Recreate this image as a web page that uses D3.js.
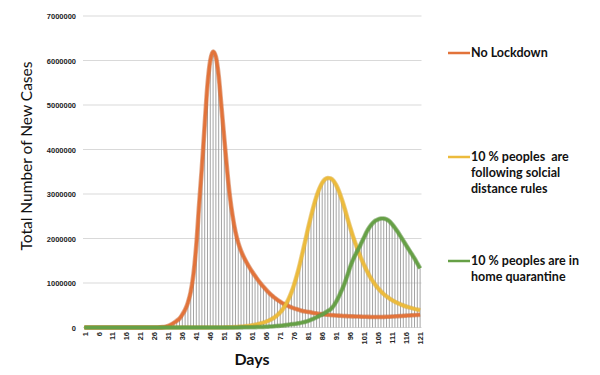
<!DOCTYPE html>
<html>
<head>
<meta charset="utf-8">
<script src="https://cdn.jsdelivr.net/npm/d3@7"></script>
<style>
  body { margin: 0; background: #fff; }
  svg { display: block; font-family: Lato, "Open Sans", sans-serif; }
  .tick text { font-weight: bold; font-size: 7.5px; fill: #222; }
  .legend text { font-weight: bold; font-size: 12.5px; fill: #111; white-space: pre; }
</style>
</head>
<body>
<svg id="chart" width="600" height="375"></svg>
<script>
// day numbers 1..121
var days = [1,2,3,4,5,6,7,8,9,10,11,12,13,14,15,16,17,18,19,20,
  21,22,23,24,25,26,27,28,29,30,31,32,33,34,35,36,37,38,39,40,
  41,42,43,44,45,46,47,48,49,50,51,52,53,54,55,56,57,58,59,60,
  61,62,63,64,65,66,67,68,69,70,71,72,73,74,75,76,77,78,79,80,
  81,82,83,84,85,86,87,88,89,90,91,92,93,94,95,96,97,98,99,100,
  101,102,103,104,105,106,107,108,109,110,111,112,113,114,115,116,117,118,119,120,121];

var dayTicks = [1,6,11,16,21,26,31,36,41,46,51,56,61,66,71,76,81,86,91,96,101,106,111,116,121];
var yTicks = [0,1000000,2000000,3000000,4000000,5000000,6000000,7000000];

var seriesNames = ["No Lockdown", "10 % peoples  are\nfollowing solcial\ndistance rules", "10 % peoples are in\nhome quarantine"];

// No Lockdown
var noLockdown = [0,0,0,0,0,0,0,0,0,0,
  0,0,0,0,0,0,0,0,0,0,
  0,0,0,0,0,0,1000,3000,8000,18000,
  35000,65000,105000,150000,200000,290000,400000,560000,800000,1200000,
  1850000,2750000,3600000,4550000,5450000,6000000,6200000,6080000,5650000,4950000,
  4250000,3550000,2950000,2500000,2150000,1900000,1720000,1580000,1460000,1350000,
  1250000,1160000,1070000,990000,915000,845000,780000,720000,670000,620000,
  580000,540000,510000,480000,450000,430000,410000,390000,370000,360000,
  350000,340000,325000,315000,305000,300000,292000,285000,280000,275000,
  270000,266000,262000,258000,255000,252000,250000,248000,246000,244000,
  242000,240000,238000,237000,236000,236000,237000,238000,240000,243000,
  246000,250000,254000,258000,262000,266000,270000,274000,278000,282000,286000];

// 10 % following social distance rules
var socialDistance = [0,0,0,0,0,0,0,0,0,0,
  0,0,0,0,0,0,0,0,0,0,
  0,0,0,0,0,0,0,0,0,0,
  0,0,0,0,0,0,0,0,0,0,
  0,0,0,0,0,0,0,0,0,0,
  2000,3000,5000,7000,10000,14000,19000,25000,32000,40000,
  50000,62000,76000,92000,110000,132000,158000,190000,230000,280000,
  340000,420000,520000,640000,790000,970000,1180000,1420000,1690000,1960000,
  2240000,2500000,2740000,2950000,3120000,3250000,3330000,3360000,3350000,3300000,
  3200000,3060000,2880000,2680000,2460000,2250000,2050000,1870000,1700000,1540000,
  1400000,1270000,1150000,1050000,960000,880000,810000,750000,700000,655000,
  615000,580000,548000,520000,495000,473000,453000,435000,418000,402000,388000];

// 10 % in home quarantine
var homeQuarantine = [0,0,0,0,0,0,0,0,0,0,
  0,0,0,0,0,0,0,0,0,0,
  0,0,0,0,0,0,0,0,0,0,
  0,0,0,0,0,0,0,0,0,0,
  0,0,0,0,0,0,0,0,0,0,
  0,0,0,0,0,2000,3000,4000,5000,6000,
  7000,8000,10000,12000,14000,17000,20000,24000,29000,35000,
  40000,46000,54000,63000,72000,80000,90000,100000,115000,130000,
  150000,175000,200000,230000,260000,290000,330000,370000,410000,480000,
  580000,700000,840000,990000,1170000,1360000,1520000,1650000,1770000,1900000,
  2030000,2160000,2260000,2340000,2400000,2430000,2450000,2450000,2430000,2390000,
  2320000,2240000,2150000,2050000,1950000,1850000,1750000,1650000,1550000,1440000,1330000];

var colors = ["#e2733a", "#ecbb3c", "#66a046"];
var edgeColors = ["#c8602c", "#d9a52a", "#548c36"];

var svg = d3.select("#chart");

var x = d3.scalePoint()
  .domain(days)
  .range([83, 421.5])
  .padding(0.5);

var y = d3.scaleLinear()
  .domain([0, 7000000])
  .range([327.5, 16]);

// gridlines
svg.append("g")
  .selectAll("line")
  .data(yTicks)
  .join("line")
    .attr("x1", 83)
    .attr("x2", 421.5)
    .attr("y1", function(d) { return y(d); })
    .attr("y2", function(d) { return y(d); })
    .attr("stroke", "#d9d9d9")
    .attr("stroke-width", 1);

// y axis labels
var yAxis = d3.axisLeft(y)
  .tickValues(yTicks)
  .tickSize(0)
  .tickPadding(0)
  .tickFormat(d3.format("d"));

svg.append("g")
  .attr("class", "y axis")
  .attr("transform", "translate(76,0)")
  .call(yAxis)
  .call(function(g) { g.select(".domain").remove(); })
  .selectAll("text")
    .attr("dy", "0.35em");

// x axis labels (rotated)
var xAxis = d3.axisBottom(x)
  .tickValues(dayTicks)
  .tickSize(0)
  .tickPadding(0);

svg.append("g")
  .attr("class", "x axis")
  .attr("transform", "translate(0,332)")
  .call(xAxis)
  .call(function(g) { g.select(".domain").remove(); })
  .selectAll("text")
    .attr("transform", "rotate(-90)")
    .attr("text-anchor", "end")
    .attr("x", 0)
    .attr("y", 0)
    .attr("dy", "0.35em");

// drop lines
svg.append("g")
  .selectAll("line")
  .data(days)
  .join("line")
    .attr("x1", function(d) { return x(d); })
    .attr("x2", function(d) { return x(d); })
    .attr("y1", y(0))
    .attr("y2", function(d, i) {
      return y(Math.max(noLockdown[i], socialDistance[i], homeQuarantine[i]));
    })
    .attr("stroke", "#9a9a9a")
    .attr("stroke-width", 0.9);

// series lines
var allSeries = [noLockdown, socialDistance, homeQuarantine];

var line = d3.line()
  .x(function(d, i) { return x(days[i]); })
  .y(function(d) { return y(d); })
  .curve(d3.curveMonotoneX);

allSeries.forEach(function(s, k) {
  svg.append("path")
    .datum(s)
    .attr("d", line)
    .attr("fill", "none")
    .attr("stroke", edgeColors[k])
    .attr("stroke-opacity", 0.55)
    .attr("stroke-width", 4.6)
    .attr("stroke-linejoin", "round");
  svg.append("path")
    .datum(s)
    .attr("d", line)
    .attr("fill", "none")
    .attr("stroke", colors[k])
    .attr("stroke-width", 3)
    .attr("stroke-linejoin", "round");
});

// axis titles
svg.append("text")
  .attr("x", 252)
  .attr("y", 365)
  .attr("text-anchor", "middle")
  .style("font-weight", "bold")
  .style("font-size", "16px")
  .style("fill", "#111")
  .text("Days");

svg.append("text")
  .attr("transform", "translate(32,156)rotate(-90)")
  .attr("text-anchor", "middle")
  .style("font-size", "15.5px")
  .style("fill", "#111")
  .text("Total Number of New Cases");

// legend
var legendY = [53, 157, 261];
var legend = svg.append("g").attr("class", "legend");

seriesNames.forEach(function(name, k) {
  legend.append("line")
    .attr("x1", 448)
    .attr("x2", 470)
    .attr("y1", legendY[k])
    .attr("y2", legendY[k])
    .attr("stroke", colors[k])
    .attr("stroke-width", 2.5);

  var t = legend.append("text")
    .attr("x", 471)
    .attr("y", legendY[k] + 4.3);
  name.split("\n").forEach(function(part, j) {
    t.append("tspan")
      .attr("x", 471)
      .attr("dy", j === 0 ? 0 : 16)
      .text(part);
  });
});
</script>
</body>
</html>
